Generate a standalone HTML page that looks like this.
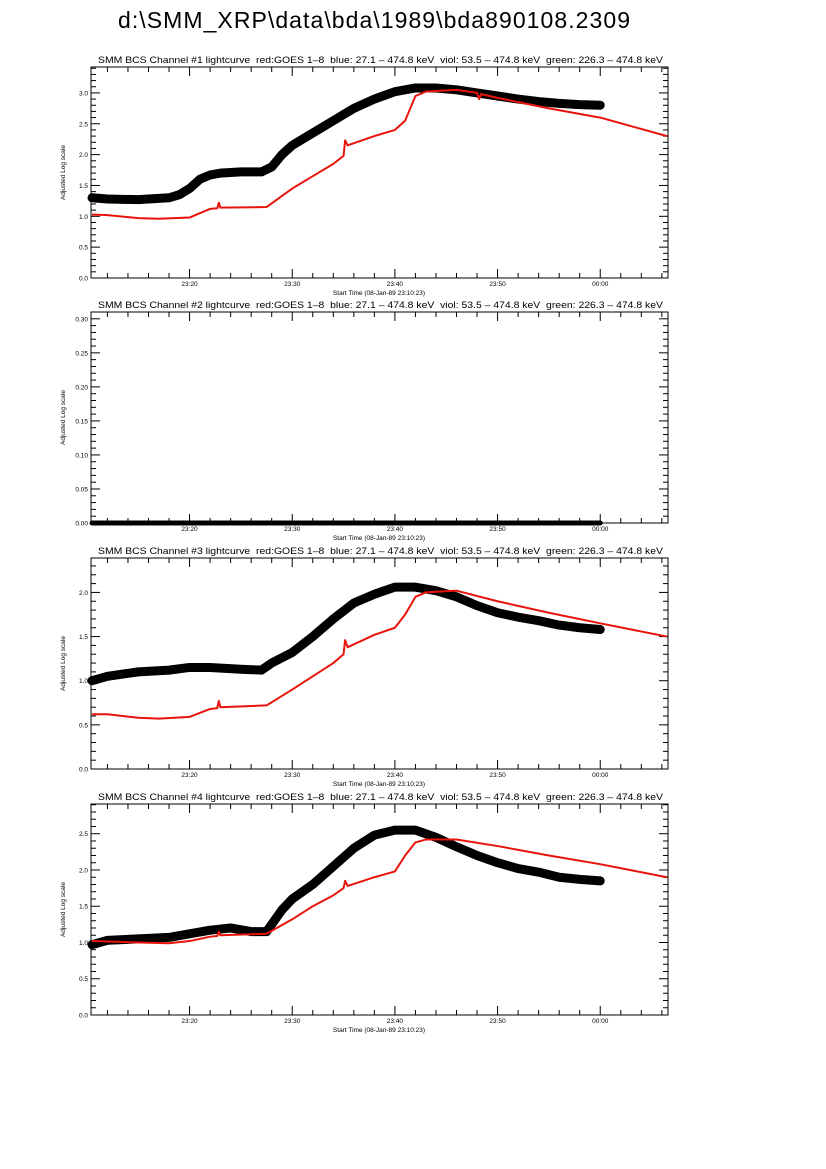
<!DOCTYPE html>
<html><head><meta charset="utf-8"><style>
body{margin:0;background:#fff;}
svg{display:block;font-family:"Liberation Sans",sans-serif;}
</style></head><body>
<svg id="chart" width="826" height="1169">
<text x="118" y="28" font-size="23" textLength="512">d:\SMM_XRP\data\bda\1989\bda890108.2309</text>
</svg>
<script>
// time in minutes after 23:00
const xTickLabels = ["23:20","23:30","23:40","23:50","00:00"];
const xTickTimes = [20,30,40,50,60];
const blackT1 = [10.5,12,15,18,19,20,21,22,23,25,27,28,29,30,32,34,36,38,40,42,44,46,48,50,52,54,56,58,60];
const blackV1 = [1.3,1.28,1.27,1.3,1.35,1.45,1.6,1.67,1.7,1.72,1.72,1.8,2.0,2.15,2.35,2.55,2.75,2.9,3.02,3.08,3.08,3.05,3.0,2.95,2.9,2.86,2.83,2.81,2.8];
const redT1 = [10.5,12,15,17,20,21,22,22.7,22.85,23,27.5,30,32,34,35,35.15,35.4,38,40,41,42,43,46,48,48.2,48.4,50,55,60,66.5];
const redV1 = [1.03,1.02,0.97,0.96,0.98,1.05,1.12,1.13,1.22,1.14,1.15,1.45,1.65,1.85,1.98,2.23,2.15,2.3,2.4,2.55,2.95,3.02,3.05,3.0,2.9,2.98,2.92,2.75,2.6,2.3];
const blackT2 = [10.5,60];
const blackV2 = [0,0];
const blackT3 = [10.5,12,15,18,20,22,25,27,28,30,32,34,36,38,40,42,44,46,48,50,52,54,56,58,60];
const blackV3 = [1.0,1.05,1.1,1.12,1.15,1.15,1.13,1.12,1.2,1.32,1.5,1.7,1.88,1.98,2.06,2.06,2.02,1.95,1.85,1.77,1.72,1.68,1.63,1.6,1.58];
const redT3 = [10.5,12,15,17,20,22,22.7,22.85,23,27.5,30,32,34,35,35.15,35.4,38,40,41,42,43,46,50,55,60,66.5];
const redV3 = [0.62,0.62,0.58,0.57,0.59,0.68,0.69,0.77,0.7,0.72,0.9,1.05,1.2,1.3,1.46,1.38,1.52,1.6,1.75,1.95,2.0,2.02,1.9,1.77,1.65,1.5];
const blackT4 = [10.5,12,15,18,20,22,24,26,27.5,29,30,32,34,36,38,40,42,44,46,48,50,52,54,56,58,60];
const blackV4 = [0.97,1.03,1.05,1.07,1.12,1.17,1.2,1.15,1.15,1.45,1.6,1.8,2.05,2.3,2.48,2.55,2.55,2.45,2.32,2.2,2.1,2.02,1.97,1.9,1.87,1.85];
const redT4 = [10.5,15,18,20,22,22.7,22.85,23,27.5,30,32,34,35,35.15,35.4,38,40,41,42,43,46,50,55,60,66.5];
const redV4 = [1.02,1.0,0.99,1.02,1.08,1.09,1.15,1.1,1.12,1.32,1.5,1.65,1.75,1.85,1.78,1.9,1.98,2.2,2.38,2.42,2.42,2.33,2.2,2.08,1.9];
const yMaxes = [3.42,0.31,2.39,2.91];
const yMajor = [0.5,0.05,0.5,0.5];
const yMinorN = [5,5,5,5];

const NS="http://www.w3.org/2000/svg";
const svg=document.getElementById('chart');
function mk(tag,attrs,parent){const e=document.createElementNS(NS,tag);for(const k in attrs)e.setAttribute(k,attrs[k]);(parent||svg).appendChild(e);return e;}
const X0=91,X1=668,T0=10.4,T1=66.6;
const xs=t=>X0+(t-T0)*(X1-X0)/(T1-T0);
const tops=[67,312,558,804],H=211;
const titleTxt="SMM BCS Channel #N lightcurve  red:GOES 1\u20138  blue: 27.1 \u2013 474.8 keV  viol: 53.5 \u2013 474.8 keV  green: 226.3 \u2013 474.8 keV";
const series=[[blackT1,blackV1,redT1,redV1],[blackT2,blackV2,null,null],[blackT3,blackV3,redT3,redV3],[blackT4,blackV4,redT4,redV4]];
for(let p=0;p<4;p++){
  const top=tops[p],bot=top+H,ymax=yMaxes[p];
  const ys=v=>bot-v*H/ymax;
  const g=mk('g',{});
  
  
  const t=mk('text',{x:98,y:top-4,'font-size':9.3,textLength:565,lengthAdjust:'spacingAndGlyphs'},g);
  t.setAttributeNS("http://www.w3.org/XML/1998/namespace","xml:space","preserve");
  t.style.whiteSpace='pre';
  t.textContent=titleTxt.replace('#N','#'+(p+1));
  
  
  const fr=mk('rect',{x:X0,y:top,width:X1-X0,height:H,fill:'none',stroke:'#000','stroke-width':1},g);
  
  
  for(let m=12;m<=66;m+=2){
    const x=xs(m),maj=(m%10===0);
    const L=maj?9:5;
    mk('line',{x1:x,x2:x,y1:bot,y2:bot-L,stroke:'#000','stroke-width':1},g);
    mk('line',{x1:x,x2:x,y1:top,y2:top+L,stroke:'#000','stroke-width':1},g);
  }
  xTickLabels.forEach((lab,i)=>{
    const tx=mk('text',{x:xs(xTickTimes[i]),y:bot+8,'font-size':6.5,'text-anchor':'middle'},g);
    tx.textContent=lab;
    
    
  });
  const xt=mk('text',{x:379,y:bot+17,'font-size':6.5,'text-anchor':'middle'},g);
  xt.textContent="Start Time (08-Jan-89 23:10:23)";
  
  
  const mj=yMajor[p],mn=mj/yMinorN[p];
  for(let k=0;k*mn<=ymax+1e-9;k++){
    const v=k*mn,y=ys(v),maj=(k%yMinorN[p]===0);
    const L=maj?9:5;
    mk('line',{x1:X0,x2:X0+L,y1:y,y2:y,stroke:'#000','stroke-width':1},g);
    mk('line',{x1:X1,x2:X1-L,y1:y,y2:y,stroke:'#000','stroke-width':1},g);
    if(maj){
      const yl=mk('text',{x:X0-3,y:y+2.5,'font-size':6.5,'text-anchor':'end'},g);
      yl.textContent=p===1?v.toFixed(2):v.toFixed(1);
      
      
    }
  }
  const yt=mk('text',{x:0,y:0,'font-size':6.5,'text-anchor':'middle',transform:`translate(65,${top+H/2}) rotate(-90)`},g);
  yt.textContent="Adjusted Log scale";
  
  
  const [bt,bv,rt,rv]=series[p];
  const bl=mk('polyline',{points:bt.map((tt,i)=>xs(tt)+','+ys(bv[i])).join(' '),fill:'none',stroke:'#000','stroke-width':p===1?5:9,'stroke-linecap':'round','stroke-linejoin':'round'},g);
  
  
  if(rt){
    const rl=mk('polyline',{points:rt.map((tt,i)=>xs(tt)+','+ys(rv[i])).join(' '),fill:'none',stroke:'#e8140c','stroke-width':2,'stroke-linejoin':'round'},g);
    
    
  }
}
</script>
</body></html>
